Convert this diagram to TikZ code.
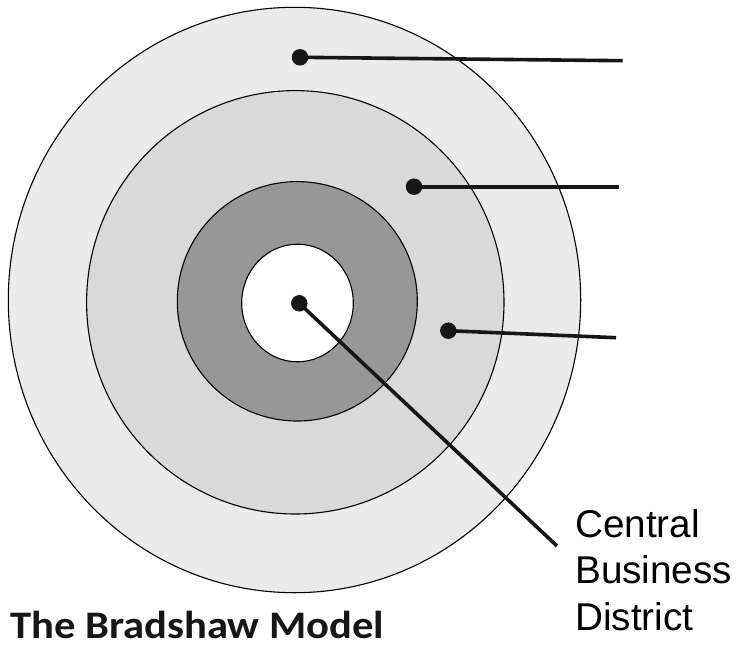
\documentclass[tikz,border=0pt]{standalone}
\usepackage{fontspec}
\setmainfont{Liberation Sans}
\newfontfamily\titlefont{Carlito}
\usetikzlibrary{shapes.geometric}
\definecolor{ringA}{HTML}{EBEBEB}
\definecolor{ringB}{HTML}{D9D9D9}
\definecolor{ringC}{HTML}{979797}
\definecolor{ink}{HTML}{161616}
\tikzset{
  ring/.style={ellipse, draw=black, line width=1.1pt, inner sep=0pt},
  pin/.style={circle, fill=ink, inner sep=0pt, minimum size=16.5pt},
  leader/.style={draw=ink, line width=3.6pt},
  hand/.style={font=\fontsize{38.7}{46}\selectfont, anchor=base west, inner sep=0pt},
}
\begin{document}
\begin{tikzpicture}[x=1pt,y=-1pt]
\useasboundingbox[fill=white] (0,0) rectangle (736,648);
\node[ring, fill=ringA, minimum width=572.4pt, minimum height=585.4pt] (outer) at (294.5,300) {};
\node[ring, fill=ringB, minimum width=417.4pt, minimum height=423.4pt] (second) at (295.3,302.3) {};
\node[ring, fill=ringC, minimum width=240pt, minimum height=239.4pt] (third) at (297.3,301.3) {};
\node[ring, fill=white, minimum width=111.6pt, minimum height=117.6pt] (cbd) at (297.5,303) {};

\node[pin] (d1) at (300,57.3) {};
\node[pin] (d2) at (414,186.7) {};
\node[pin] (d3) at (448.3,330.7) {};
\node[pin] (d4) at (299.3,303.3) {};

\coordinate (e1) at (622.7,60.7);
\coordinate (e2) at (619.3,186.7);
\coordinate (e3) at (616,337.7);
\coordinate (e4) at (557,546);

\draw[leader] (d1.center) -- (e1);
\draw[leader] (d2.center) -- (e2);
\draw[leader] (d3.center) -- (e3);
\draw[leader] (d4.center) -- (e4);

\node[hand] (l1) at (575,537) {Central};
\node[hand] (l2) at (575,583) {Business};
\node[hand] (l3) at (575,630) {District};

\node[font=\titlefont\bfseries\fontsize{39}{46}\selectfont, anchor=base west, inner sep=0pt, text depth=0pt, text=ink] (title) at (10,638) {\scalebox{1.093}[1]{The Bradshaw Model}};
\end{tikzpicture}
\end{document}
